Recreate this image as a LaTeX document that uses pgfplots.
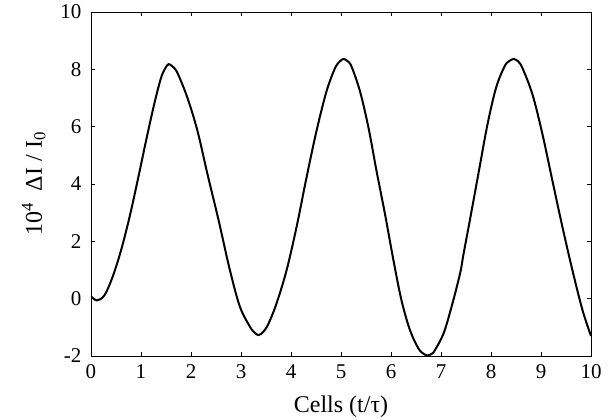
\documentclass[border=0pt]{standalone}
\usepackage{fontspec}
\setmainfont{Liberation Serif}
\usepackage{pgfplots}
\pgfplotsset{compat=1.18}
\begin{document}
\begin{tikzpicture}
\useasboundingbox (-91bp,-64bp) rectangle (523bp,356bp);
\begin{axis}[
  scale only axis,
  width=500bp, height=344bp,
  xmin=0, xmax=10, ymin=-2, ymax=10,
  xtick={0,1,...,10},
  ytick={-2,0,2,4,6,8,10},
  yticklabels={-2,0,2,4,6,8,10},
  xticklabels={0,1,2,3,4,5,6,7,8,9,10},
  tick align=inside,
  major tick length=4bp,
  axis line style={line width=0.9bp},
  tick style={line width=0.7bp, black},
  ticklabel style={font=\fontsize{21bp}{24bp}\selectfont},
  xticklabel style={yshift=-5bp},
  yticklabel style={xshift=-6bp},
  label style={font=\fontsize{24bp}{28bp}\selectfont},
  xlabel={Cells (t/τ)},
  ylabel={10\textsuperscript{4}~~ΔI / I\textsubscript{0}},
  xlabel style={yshift=-10bp},
  ylabel style={yshift=8bp},
  /pgf/number format/assume math mode=true,
]
\addplot[black, line width=2bp, smooth, tension=0.55] coordinates {
(0.00,0.08) (0.12,-0.06) (0.27,0.12) (0.43,0.75) (0.60,1.68) (0.77,2.84)
(0.93,4.10) (1.10,5.50) (1.27,6.83) (1.40,7.70) (1.48,8.02) (1.55,8.18)
(1.63,8.10) (1.73,7.87) (1.93,7.00) (2.13,5.85) (2.33,4.34) (2.55,2.75)
(2.78,0.98) (2.98,-0.29) (3.18,-0.98) (3.27,-1.18) (3.35,-1.27) (3.45,-1.15)
(3.55,-0.87) (3.71,-0.17) (3.91,0.98) (4.11,2.49) (4.31,4.22) (4.51,5.85)
(4.71,7.23) (4.88,8.04) (4.98,8.28) (5.05,8.36) (5.12,8.30) (5.21,8.10)
(5.38,7.23) (5.55,5.96) (5.71,4.46) (5.88,2.95) (6.05,1.33) (6.21,-0.06)
(6.38,-1.10) (6.55,-1.74) (6.65,-1.92) (6.73,-1.98) (6.82,-1.92) (6.88,-1.79)
(7.05,-1.22) (7.21,-0.29) (7.38,0.87) (7.45,1.55) (7.60,2.95) (7.77,4.57)
(7.93,6.08) (8.10,7.35) (8.27,8.10) (8.36,8.28) (8.45,8.36) (8.54,8.28)
(8.63,8.04) (8.83,7.12) (9.03,5.73) (9.23,4.10) (9.43,2.49) (9.63,0.98)
(9.83,-0.40) (10.00,-1.30)
};
\end{axis}
\end{tikzpicture}
\end{document}
